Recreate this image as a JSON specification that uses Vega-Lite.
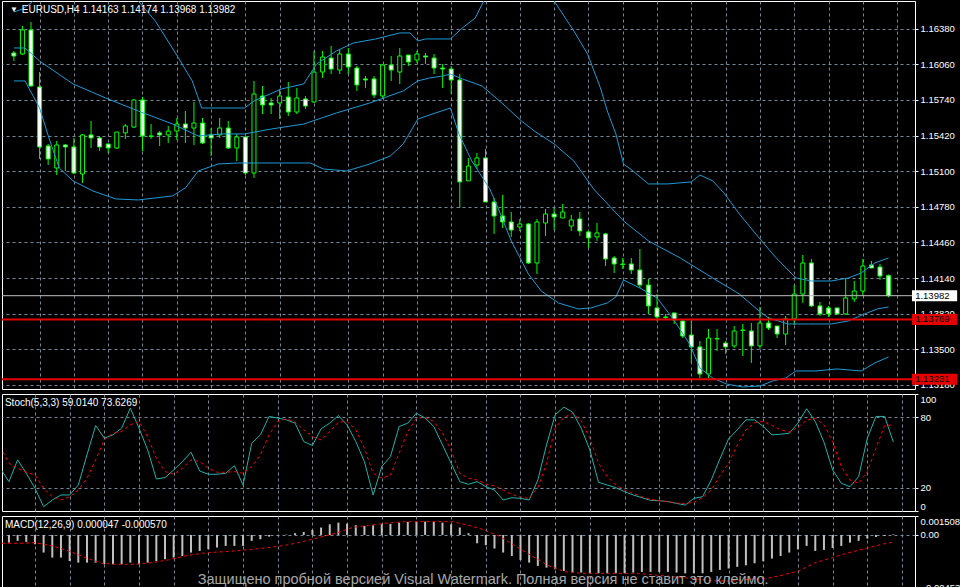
{
  "$schema": "https://vega.github.io/schema/vega-lite/v6.json",
  "background": "#000000",
  "padding": 0,
  "spacing": 3,
  "config": {
    "view": {"stroke": "#ffffff", "strokeWidth": 1},
    "axis": {
      "gridColor": "#778899",
      "gridDash": [3, 3],
      "gridWidth": 1,
      "labelColor": "#ffffff",
      "labelFont": "Liberation Sans",
      "labelFontSize": 9.5,
      "labelPadding": 2,
      "labelOverlap": false,
      "tickColor": "#ffffff",
      "tickSize": 3,
      "domain": false
    },
    "text": {"font": "Liberation Sans", "fontSize": 10}
  },
  "datasets": {
    "candles": [
      {"k": 0, "open": 1.16162, "high": 1.1618, "low": 1.1609, "close": 1.16135},
      {"k": 1, "open": 1.16153, "high": 1.16405, "low": 1.16144, "close": 1.16369},
      {"k": 2, "open": 1.16369, "high": 1.1644, "low": 1.15857, "close": 1.15866},
      {"k": 3, "open": 1.15857, "high": 1.15991, "low": 1.1521, "close": 1.15318},
      {"k": 4, "open": 1.15327, "high": 1.15345, "low": 1.15156, "close": 1.1521},
      {"k": 5, "open": 1.15129, "high": 1.15372, "low": 1.15066, "close": 1.15336},
      {"k": 6, "open": 1.15336, "high": 1.15345, "low": 1.15102, "close": 1.15318},
      {"k": 7, "open": 1.15318, "high": 1.15399, "low": 1.15075, "close": 1.15084},
      {"k": 8, "open": 1.15075, "high": 1.15435, "low": 1.14995, "close": 1.15426},
      {"k": 9, "open": 1.15426, "high": 1.15551, "low": 1.15309, "close": 1.15399},
      {"k": 10, "open": 1.15399, "high": 1.15417, "low": 1.15282, "close": 1.15318},
      {"k": 11, "open": 1.15345, "high": 1.15345, "low": 1.15264, "close": 1.15309},
      {"k": 12, "open": 1.15309, "high": 1.15452, "low": 1.153, "close": 1.15452},
      {"k": 13, "open": 1.15444, "high": 1.15524, "low": 1.1539, "close": 1.15506},
      {"k": 14, "open": 1.15497, "high": 1.15749, "low": 1.15488, "close": 1.1574},
      {"k": 15, "open": 1.1574, "high": 1.15767, "low": 1.15282, "close": 1.15417},
      {"k": 16, "open": 1.15417, "high": 1.15524, "low": 1.1539, "close": 1.15412},
      {"k": 17, "open": 1.15444, "high": 1.15461, "low": 1.15327, "close": 1.15426},
      {"k": 18, "open": 1.15426, "high": 1.15506, "low": 1.15354, "close": 1.15461},
      {"k": 19, "open": 1.15461, "high": 1.15578, "low": 1.15381, "close": 1.15524},
      {"k": 20, "open": 1.15524, "high": 1.15641, "low": 1.15354, "close": 1.15488},
      {"k": 21, "open": 1.15488, "high": 1.15722, "low": 1.15336, "close": 1.15533},
      {"k": 22, "open": 1.15533, "high": 1.15578, "low": 1.15345, "close": 1.15354},
      {"k": 23, "open": 1.15426, "high": 1.15488, "low": 1.15237, "close": 1.15399},
      {"k": 24, "open": 1.15426, "high": 1.15578, "low": 1.15399, "close": 1.15488},
      {"k": 25, "open": 1.15488, "high": 1.15551, "low": 1.153, "close": 1.15309},
      {"k": 26, "open": 1.15309, "high": 1.15435, "low": 1.15192, "close": 1.15408},
      {"k": 27, "open": 1.15408, "high": 1.15408, "low": 1.15066, "close": 1.15084},
      {"k": 28, "open": 1.15084, "high": 1.15911, "low": 1.1504, "close": 1.15794},
      {"k": 29, "open": 1.15776, "high": 1.15866, "low": 1.15614, "close": 1.15695},
      {"k": 30, "open": 1.15713, "high": 1.15758, "low": 1.15614, "close": 1.15695},
      {"k": 31, "open": 1.15713, "high": 1.15839, "low": 1.15569, "close": 1.15776},
      {"k": 32, "open": 1.15767, "high": 1.15902, "low": 1.15596, "close": 1.15632},
      {"k": 33, "open": 1.15632, "high": 1.15848, "low": 1.15614, "close": 1.15758},
      {"k": 34, "open": 1.15749, "high": 1.15776, "low": 1.15659, "close": 1.15686},
      {"k": 35, "open": 1.15722, "high": 1.1618, "low": 1.15713, "close": 1.15991},
      {"k": 36, "open": 1.15991, "high": 1.1618, "low": 1.15938, "close": 1.16126},
      {"k": 37, "open": 1.16117, "high": 1.16225, "low": 1.15973, "close": 1.16018},
      {"k": 38, "open": 1.16009, "high": 1.16198, "low": 1.15973, "close": 1.16153},
      {"k": 39, "open": 1.16153, "high": 1.16207, "low": 1.15973, "close": 1.16036},
      {"k": 40, "open": 1.16027, "high": 1.16045, "low": 1.15821, "close": 1.15875},
      {"k": 41, "open": 1.15929, "high": 1.15955, "low": 1.15848, "close": 1.1592},
      {"k": 42, "open": 1.15929, "high": 1.15955, "low": 1.15758, "close": 1.15785},
      {"k": 43, "open": 1.15776, "high": 1.16063, "low": 1.15758, "close": 1.16054},
      {"k": 44, "open": 1.16054, "high": 1.16135, "low": 1.15911, "close": 1.16009},
      {"k": 45, "open": 1.15991, "high": 1.16207, "low": 1.15884, "close": 1.16135},
      {"k": 46, "open": 1.16144, "high": 1.16144, "low": 1.16045, "close": 1.16081},
      {"k": 47, "open": 1.16099, "high": 1.1618, "low": 1.16072, "close": 1.16153},
      {"k": 48, "open": 1.16135, "high": 1.16162, "low": 1.16063, "close": 1.16126},
      {"k": 49, "open": 1.16117, "high": 1.16153, "low": 1.15973, "close": 1.16027},
      {"k": 50, "open": 1.16027, "high": 1.16063, "low": 1.15848, "close": 1.16018},
      {"k": 51, "open": 1.16018, "high": 1.16045, "low": 1.15794, "close": 1.1592},
      {"k": 52, "open": 1.1592, "high": 1.15973, "low": 1.1477, "close": 1.15004},
      {"k": 53, "open": 1.15013, "high": 1.15219, "low": 1.15013, "close": 1.15147},
      {"k": 54, "open": 1.15156, "high": 1.15264, "low": 1.1512, "close": 1.15219},
      {"k": 55, "open": 1.15219, "high": 1.153, "low": 1.14824, "close": 1.14824},
      {"k": 56, "open": 1.14824, "high": 1.1486, "low": 1.14537, "close": 1.14698},
      {"k": 57, "open": 1.14698, "high": 1.14887, "low": 1.1459, "close": 1.14644},
      {"k": 58, "open": 1.14644, "high": 1.14734, "low": 1.1451, "close": 1.14572},
      {"k": 59, "open": 1.14599, "high": 1.14671, "low": 1.14563, "close": 1.14626},
      {"k": 60, "open": 1.14626, "high": 1.14635, "low": 1.14267, "close": 1.14276},
      {"k": 61, "open": 1.14276, "high": 1.14671, "low": 1.14177, "close": 1.14644},
      {"k": 62, "open": 1.14635, "high": 1.14761, "low": 1.14519, "close": 1.14716},
      {"k": 63, "open": 1.14716, "high": 1.1477, "low": 1.14572, "close": 1.14689},
      {"k": 64, "open": 1.1468, "high": 1.14806, "low": 1.1468, "close": 1.14734},
      {"k": 65, "open": 1.14608, "high": 1.14707, "low": 1.14563, "close": 1.14662},
      {"k": 66, "open": 1.14671, "high": 1.14734, "low": 1.14519, "close": 1.14563},
      {"k": 67, "open": 1.14555, "high": 1.14563, "low": 1.14411, "close": 1.14501},
      {"k": 68, "open": 1.1451, "high": 1.14635, "low": 1.14474, "close": 1.14546},
      {"k": 69, "open": 1.14537, "high": 1.14546, "low": 1.14249, "close": 1.14312},
      {"k": 70, "open": 1.14321, "high": 1.14339, "low": 1.14186, "close": 1.14267},
      {"k": 71, "open": 1.14267, "high": 1.14321, "low": 1.14222, "close": 1.14262},
      {"k": 72, "open": 1.14267, "high": 1.14321, "low": 1.14177, "close": 1.14213},
      {"k": 73, "open": 1.14213, "high": 1.14402, "low": 1.14051, "close": 1.14078},
      {"k": 74, "open": 1.14078, "high": 1.14132, "low": 1.13818, "close": 1.1389},
      {"k": 75, "open": 1.13872, "high": 1.13997, "low": 1.13755, "close": 1.13791},
      {"k": 76, "open": 1.13791, "high": 1.13818, "low": 1.13773, "close": 1.13787},
      {"k": 77, "open": 1.13827, "high": 1.13827, "low": 1.13728, "close": 1.13764},
      {"k": 78, "open": 1.13755, "high": 1.13773, "low": 1.13602, "close": 1.1362},
      {"k": 79, "open": 1.13629, "high": 1.13755, "low": 1.13378, "close": 1.13522},
      {"k": 80, "open": 1.13522, "high": 1.13575, "low": 1.13243, "close": 1.13279},
      {"k": 81, "open": 1.13279, "high": 1.13683, "low": 1.13243, "close": 1.13602},
      {"k": 82, "open": 1.13593, "high": 1.13683, "low": 1.13486, "close": 1.13598},
      {"k": 83, "open": 1.13557, "high": 1.13575, "low": 1.13459, "close": 1.13522},
      {"k": 84, "open": 1.13531, "high": 1.1371, "low": 1.13513, "close": 1.13665},
      {"k": 85, "open": 1.13674, "high": 1.13728, "low": 1.13441, "close": 1.1367},
      {"k": 86, "open": 1.13665, "high": 1.13737, "low": 1.13378, "close": 1.13531},
      {"k": 87, "open": 1.13531, "high": 1.13881, "low": 1.13504, "close": 1.13737},
      {"k": 88, "open": 1.13737, "high": 1.13791, "low": 1.13674, "close": 1.13692},
      {"k": 89, "open": 1.1371, "high": 1.1371, "low": 1.13602, "close": 1.13638},
      {"k": 90, "open": 1.13638, "high": 1.138, "low": 1.13539, "close": 1.13773},
      {"k": 91, "open": 1.13773, "high": 1.14078, "low": 1.13719, "close": 1.13997},
      {"k": 92, "open": 1.13997, "high": 1.14348, "low": 1.13917, "close": 1.14276},
      {"k": 93, "open": 1.14276, "high": 1.14312, "low": 1.13881, "close": 1.1389},
      {"k": 94, "open": 1.1389, "high": 1.13926, "low": 1.138, "close": 1.13818},
      {"k": 95, "open": 1.13872, "high": 1.1389, "low": 1.13791, "close": 1.13818},
      {"k": 96, "open": 1.13872, "high": 1.13872, "low": 1.13809, "close": 1.13818},
      {"k": 97, "open": 1.13818, "high": 1.14141, "low": 1.13809, "close": 1.13962},
      {"k": 98, "open": 1.13953, "high": 1.14114, "low": 1.13926, "close": 1.14024},
      {"k": 99, "open": 1.14024, "high": 1.14312, "low": 1.1398, "close": 1.14249},
      {"k": 100, "open": 1.14258, "high": 1.14294, "low": 1.14231, "close": 1.14231},
      {"k": 101, "open": 1.1424, "high": 1.14267, "low": 1.14123, "close": 1.14159},
      {"k": 102, "open": 1.14163, "high": 1.14174, "low": 1.13968, "close": 1.13982}
    ],
    "upper": [
      {"k": 0, "v": 1.1653}, {"k": 1, "v": 1.16557}, {"k": 2, "v": 1.16611}, {"k": 3, "v": 1.16701},
      {"k": 5, "v": 1.16854}, {"k": 8, "v": 1.16943}, {"k": 11, "v": 1.16854}, {"k": 13, "v": 1.16737},
      {"k": 14.5, "v": 1.16629}, {"k": 16.5, "v": 1.16449}, {"k": 19.2, "v": 1.16117}, {"k": 20.8, "v": 1.15911},
      {"k": 21.9, "v": 1.15668}, {"k": 26.9, "v": 1.15668}, {"k": 28, "v": 1.15731}, {"k": 31.2, "v": 1.15839},
      {"k": 33.8, "v": 1.15884}, {"k": 35.3, "v": 1.16063}, {"k": 37.6, "v": 1.1618}, {"k": 39.6, "v": 1.16252},
      {"k": 42.2, "v": 1.16288}, {"k": 45, "v": 1.16342}, {"k": 46.2, "v": 1.16342}, {"k": 47.1, "v": 1.1627},
      {"k": 48, "v": 1.16288}, {"k": 50.9, "v": 1.16288}, {"k": 52.3, "v": 1.16387}, {"k": 53.8, "v": 1.16476},
      {"k": 54.8, "v": 1.16629}, {"k": 57, "v": 1.16943}, {"k": 59, "v": 1.17078}, {"k": 61, "v": 1.16898},
      {"k": 63, "v": 1.16629}, {"k": 65.3, "v": 1.1636}, {"k": 66.9, "v": 1.16153}, {"k": 68.4, "v": 1.15848},
      {"k": 69.2, "v": 1.15641}, {"k": 70.2, "v": 1.15435}, {"k": 71.1, "v": 1.15165}, {"k": 72.2, "v": 1.15102},
      {"k": 74, "v": 1.14986}, {"k": 76.2, "v": 1.14986}, {"k": 79, "v": 1.15004}, {"k": 80, "v": 1.15066},
      {"k": 81.5, "v": 1.15013}, {"k": 82.8, "v": 1.14905}, {"k": 84.6, "v": 1.14716}, {"k": 86.9, "v": 1.14501},
      {"k": 88.9, "v": 1.14321}, {"k": 91.2, "v": 1.14141}, {"k": 93, "v": 1.14114}, {"k": 95.3, "v": 1.14114},
      {"k": 97.3, "v": 1.14141}, {"k": 98.8, "v": 1.14186}, {"k": 100.4, "v": 1.14276}, {"k": 102, "v": 1.14321}
    ],
    "middle": [
      {"k": 0, "v": 1.16207}, {"k": 1.3, "v": 1.16207}, {"k": 3, "v": 1.1609}, {"k": 6.9, "v": 1.15884},
      {"k": 10.7, "v": 1.15758}, {"k": 14.5, "v": 1.15641}, {"k": 18.5, "v": 1.15524}, {"k": 21.5, "v": 1.15417},
      {"k": 24.2, "v": 1.15435}, {"k": 26.9, "v": 1.15435}, {"k": 30, "v": 1.15479}, {"k": 33.8, "v": 1.15524},
      {"k": 37.6, "v": 1.15623}, {"k": 41.5, "v": 1.15713}, {"k": 45.4, "v": 1.15821}, {"k": 47.1, "v": 1.15911},
      {"k": 48.5, "v": 1.15938}, {"k": 50, "v": 1.15955}, {"k": 50.9, "v": 1.15973}, {"k": 52.3, "v": 1.15929},
      {"k": 54.6, "v": 1.15866}, {"k": 56.9, "v": 1.15713}, {"k": 59.2, "v": 1.15551}, {"k": 60.7, "v": 1.15461},
      {"k": 63, "v": 1.15345}, {"k": 65.3, "v": 1.15192}, {"k": 67.6, "v": 1.14941}, {"k": 71.1, "v": 1.14653},
      {"k": 74, "v": 1.14474}, {"k": 77.7, "v": 1.14321}, {"k": 81.5, "v": 1.14141}, {"k": 84.6, "v": 1.13997},
      {"k": 86.9, "v": 1.13845}, {"k": 88, "v": 1.13782}, {"k": 90.3, "v": 1.13728}, {"k": 92.7, "v": 1.13728},
      {"k": 95.3, "v": 1.13728}, {"k": 97.3, "v": 1.13755}, {"k": 99.2, "v": 1.13818}, {"k": 100.7, "v": 1.13863},
      {"k": 102, "v": 1.13881}
    ],
    "lower": [
      {"k": 0, "v": 1.15911}, {"k": 1.3, "v": 1.15911}, {"k": 3, "v": 1.15668}, {"k": 4.2, "v": 1.15372},
      {"k": 5.3, "v": 1.15129}, {"k": 6.9, "v": 1.15013}, {"k": 9.2, "v": 1.14923}, {"k": 11.9, "v": 1.14851},
      {"k": 14.5, "v": 1.14842}, {"k": 18.5, "v": 1.14878}, {"k": 20, "v": 1.1495}, {"k": 21.5, "v": 1.15102},
      {"k": 23.8, "v": 1.15165}, {"k": 26.1, "v": 1.15174}, {"k": 30, "v": 1.15174}, {"k": 34.6, "v": 1.15174},
      {"k": 36.1, "v": 1.1512}, {"k": 38.8, "v": 1.15102}, {"k": 41.5, "v": 1.15165}, {"k": 43.9, "v": 1.15237},
      {"k": 45.4, "v": 1.15345}, {"k": 46.5, "v": 1.15488}, {"k": 47.1, "v": 1.15569}, {"k": 50.9, "v": 1.15668},
      {"k": 51.9, "v": 1.15435}, {"k": 53.4, "v": 1.15192}, {"k": 55.5, "v": 1.14941}, {"k": 56.6, "v": 1.14743},
      {"k": 58, "v": 1.14474}, {"k": 60, "v": 1.14177}, {"k": 61.5, "v": 1.14024}, {"k": 63.5, "v": 1.13917},
      {"k": 65.8, "v": 1.13863}, {"k": 67.3, "v": 1.13872}, {"k": 69.2, "v": 1.13917}, {"k": 70.2, "v": 1.13971},
      {"k": 71.1, "v": 1.14123}, {"k": 73, "v": 1.14051}, {"k": 75, "v": 1.13962}, {"k": 76.8, "v": 1.13782},
      {"k": 78.8, "v": 1.13548}, {"k": 80, "v": 1.13333}, {"k": 81.5, "v": 1.13243}, {"k": 83.1, "v": 1.13189},
      {"k": 85, "v": 1.13162}, {"k": 87, "v": 1.13171}, {"k": 88.5, "v": 1.13216}, {"k": 90, "v": 1.13243},
      {"k": 91.2, "v": 1.13306}, {"k": 93.5, "v": 1.13306}, {"k": 96, "v": 1.13324}, {"k": 98.8, "v": 1.13306},
      {"k": 100.4, "v": 1.13378}, {"k": 102, "v": 1.13432}
    ],
    "levels": [
      {"price": 1.13982, "kind": "bid"},
      {"price": 1.13769, "kind": "level"},
      {"price": 1.13231, "kind": "level"}
    ],
    "stoch": [
      {"k": -1, "main": 36.5, "signal": 55}, {"k": 0, "main": 25.1, "signal": 40.8},
      {"k": 1, "main": 43.7, "signal": 36.5}, {"k": 2, "main": 32.2, "signal": 33.1},
      {"k": 3, "main": 19.4, "signal": 30.8}, {"k": 4, "main": 3.7, "signal": 19.4},
      {"k": 5, "main": 9.4, "signal": 12.2}, {"k": 6, "main": 13.7, "signal": 9.4},
      {"k": 7, "main": 13.7, "signal": 12.2}, {"k": 8, "main": 22.2, "signal": 17.9},
      {"k": 9, "main": 47.9, "signal": 28.0}, {"k": 10, "main": 73.1, "signal": 43.7},
      {"k": 11, "main": 62.2, "signal": 60.8}, {"k": 12, "main": 65.1, "signal": 66.5},
      {"k": 13, "main": 70.8, "signal": 67.9}, {"k": 14, "main": 87.9, "signal": 73.6},
      {"k": 15, "main": 70.8, "signal": 76.5}, {"k": 16, "main": 52.2, "signal": 63.6},
      {"k": 17, "main": 27.4, "signal": 45.1}, {"k": 18, "main": 28.5, "signal": 33.7},
      {"k": 19, "main": 35.1, "signal": 31.4}, {"k": 20, "main": 42.2, "signal": 36.5},
      {"k": 21, "main": 50.2, "signal": 43.7}, {"k": 22, "main": 34.2, "signal": 42.2},
      {"k": 23, "main": 31.4, "signal": 36.5}, {"k": 24, "main": 31.4, "signal": 33.1},
      {"k": 25, "main": 32.2, "signal": 33.1}, {"k": 26, "main": 38.8, "signal": 33.7},
      {"k": 27, "main": 22.2, "signal": 32.2}, {"k": 28, "main": 57.9, "signal": 38.0},
      {"k": 29, "main": 65.1, "signal": 47.9}, {"k": 30, "main": 80.8, "signal": 65.1},
      {"k": 31, "main": 79.4, "signal": 76.5}, {"k": 32, "main": 77.9, "signal": 78.8},
      {"k": 33, "main": 75.1, "signal": 75.9}, {"k": 34, "main": 59.4, "signal": 69.4},
      {"k": 35, "main": 56.0, "signal": 63.6}, {"k": 36, "main": 70.2, "signal": 60.8},
      {"k": 37, "main": 75.1, "signal": 67.9}, {"k": 38, "main": 81.6, "signal": 75.9},
      {"k": 39, "main": 73.6, "signal": 76.5}, {"k": 40, "main": 59.4, "signal": 69.4},
      {"k": 41, "main": 42.2, "signal": 53.6}, {"k": 42, "main": 13.7, "signal": 32.2},
      {"k": 43, "main": 38.0, "signal": 28.0}, {"k": 44, "main": 46.5, "signal": 30.8},
      {"k": 45, "main": 72.2, "signal": 49.4}, {"k": 46, "main": 75.1, "signal": 67.9},
      {"k": 47, "main": 83.6, "signal": 79.4}, {"k": 48, "main": 79.4, "signal": 79.9},
      {"k": 49, "main": 72.2, "signal": 76.5}, {"k": 50, "main": 56.5, "signal": 66.5},
      {"k": 51, "main": 40.8, "signal": 52.2}, {"k": 52, "main": 25.1, "signal": 32.2},
      {"k": 53, "main": 22.8, "signal": 28.0}, {"k": 54, "main": 25.1, "signal": 26.5},
      {"k": 55, "main": 20.8, "signal": 23.0}, {"k": 56, "main": 17.9, "signal": 21.4},
      {"k": 57, "main": 9.4, "signal": 17.9}, {"k": 58, "main": 11.4, "signal": 14.2},
      {"k": 59, "main": 10.8, "signal": 11.9}, {"k": 60, "main": 9.4, "signal": 10.8},
      {"k": 61, "main": 26.5, "signal": 19.9}, {"k": 62, "main": 56.5, "signal": 40.8},
      {"k": 63, "main": 82.2, "signal": 70.8}, {"k": 64, "main": 88.8, "signal": 79.9},
      {"k": 65, "main": 84.5, "signal": 83.4}, {"k": 66, "main": 70.8, "signal": 77.1},
      {"k": 67, "main": 52.2, "signal": 62.2}, {"k": 68, "main": 24.5, "signal": 40.8},
      {"k": 69, "main": 22.2, "signal": 29.4}, {"k": 70, "main": 19.9, "signal": 22.2},
      {"k": 71, "main": 16.5, "signal": 17.9}, {"k": 72, "main": 13.7, "signal": 15.1},
      {"k": 73, "main": 11.4, "signal": 12.2}, {"k": 74, "main": 9.1, "signal": 9.9},
      {"k": 75, "main": 8.8, "signal": 8.8}, {"k": 76, "main": 8.0, "signal": 8.0},
      {"k": 77, "main": 6.5, "signal": 6.8}, {"k": 78, "main": 5.1, "signal": 6.5},
      {"k": 79, "main": 10.8, "signal": 7.4}, {"k": 80, "main": 12.2, "signal": 11.4},
      {"k": 81, "main": 26.5, "signal": 17.9}, {"k": 82, "main": 44.5, "signal": 30.2},
      {"k": 83, "main": 61.7, "signal": 40.8}, {"k": 84, "main": 69.4, "signal": 56.5},
      {"k": 85, "main": 77.9, "signal": 69.4}, {"k": 86, "main": 77.9, "signal": 75.4},
      {"k": 87, "main": 72.2, "signal": 76.5}, {"k": 88, "main": 65.1, "signal": 73.1},
      {"k": 89, "main": 65.6, "signal": 69.4}, {"k": 90, "main": 66.5, "signal": 67.4},
      {"k": 91, "main": 75.1, "signal": 71.6}, {"k": 92, "main": 87.4, "signal": 77.6},
      {"k": 93, "main": 76.5, "signal": 79.4}, {"k": 94, "main": 58.8, "signal": 73.6},
      {"k": 95, "main": 35.1, "signal": 59.4}, {"k": 96, "main": 23.7, "signal": 38.0},
      {"k": 97, "main": 20.8, "signal": 26.5}, {"k": 98, "main": 29.4, "signal": 23.7},
      {"k": 99, "main": 62.2, "signal": 33.7}, {"k": 100, "main": 80.8, "signal": 53.6},
      {"k": 101, "main": 80.8, "signal": 73.1}, {"k": 102, "main": 59.0, "signal": 73.6}
    ],
    "macd": [
      {"k": 0, "hist": -0.00061}, {"k": 1, "hist": -0.00047}, {"k": 2, "hist": -0.00055}, {"k": 3, "hist": -0.00074},
      {"k": 4, "hist": -0.0014}, {"k": 5, "hist": -0.0018}, {"k": 6, "hist": -0.0018}, {"k": 7, "hist": -0.00207},
      {"k": 8, "hist": -0.0022}, {"k": 9, "hist": -0.0022}, {"k": 10, "hist": -0.0022}, {"k": 11, "hist": -0.00233},
      {"k": 12, "hist": -0.00233}, {"k": 13, "hist": -0.00233}, {"k": 14, "hist": -0.0022}, {"k": 15, "hist": -0.00233},
      {"k": 16, "hist": -0.0022}, {"k": 17, "hist": -0.00207}, {"k": 18, "hist": -0.00193}, {"k": 19, "hist": -0.0018},
      {"k": 20, "hist": -0.00167}, {"k": 21, "hist": -0.0014}, {"k": 22, "hist": -0.00127}, {"k": 23, "hist": -0.00114},
      {"k": 24, "hist": -0.001}, {"k": 25, "hist": -0.00087}, {"k": 26, "hist": -0.00087}, {"k": 27, "hist": -0.00087},
      {"k": 28, "hist": -0.00047}, {"k": 29, "hist": -0.00034}, {"k": 30, "hist": -0.00013}, {"k": 31, "hist": -0.00005},
      {"k": 32, "hist": 0.00003}, {"k": 33, "hist": 0.00014}, {"k": 34, "hist": 0.00024}, {"k": 35, "hist": 0.0004},
      {"k": 36, "hist": 0.00059}, {"k": 37, "hist": 0.00085}, {"k": 38, "hist": 0.00098}, {"k": 39, "hist": 0.0009},
      {"k": 40, "hist": 0.00077}, {"k": 41, "hist": 0.00072}, {"k": 42, "hist": 0.00077}, {"k": 43, "hist": 0.00085},
      {"k": 44, "hist": 0.00088}, {"k": 45, "hist": 0.00098}, {"k": 46, "hist": 0.00104}, {"k": 47, "hist": 0.00106},
      {"k": 48, "hist": 0.00106}, {"k": 49, "hist": 0.00104}, {"k": 50, "hist": 0.00098}, {"k": 51, "hist": 0.00085},
      {"k": 52, "hist": 0.00059}, {"k": 53, "hist": 0.00014}, {"k": 54, "hist": -0.00066}, {"k": 55, "hist": -0.00082},
      {"k": 56, "hist": -0.00108}, {"k": 57, "hist": -0.0014}, {"k": 58, "hist": -0.00167}, {"k": 59, "hist": -0.00199},
      {"k": 60, "hist": -0.0022}, {"k": 61, "hist": -0.00246}, {"k": 62, "hist": -0.0026}, {"k": 63, "hist": -0.00273},
      {"k": 64, "hist": -0.00286}, {"k": 65, "hist": -0.00294}, {"k": 66, "hist": -0.00299}, {"k": 67, "hist": -0.00305},
      {"k": 68, "hist": -0.00305}, {"k": 69, "hist": -0.00305}, {"k": 70, "hist": -0.00305}, {"k": 71, "hist": -0.00305},
      {"k": 72, "hist": -0.00299}, {"k": 73, "hist": -0.00294}, {"k": 74, "hist": -0.00294}, {"k": 75, "hist": -0.00294},
      {"k": 76, "hist": -0.00294}, {"k": 77, "hist": -0.00299}, {"k": 78, "hist": -0.00305}, {"k": 79, "hist": -0.00305},
      {"k": 80, "hist": -0.00305}, {"k": 81, "hist": -0.00294}, {"k": 82, "hist": -0.00278}, {"k": 83, "hist": -0.00267},
      {"k": 84, "hist": -0.00254}, {"k": 85, "hist": -0.00241}, {"k": 86, "hist": -0.00225}, {"k": 87, "hist": -0.00209},
      {"k": 88, "hist": -0.00188}, {"k": 89, "hist": -0.00167}, {"k": 90, "hist": -0.0014}, {"k": 91, "hist": -0.00114},
      {"k": 92, "hist": -0.00087}, {"k": 93, "hist": -0.00127}, {"k": 94, "hist": -0.00119}, {"k": 95, "hist": -0.00103},
      {"k": 96, "hist": -0.00087}, {"k": 97, "hist": -0.00061}, {"k": 98, "hist": -0.00047}, {"k": 99, "hist": -0.00029},
      {"k": 100, "hist": -0.00016}, {"k": 101, "hist": -0.00008}, {"k": 102, "hist": 0.00005}
    ],
    "macdsignal": [
      {"k": -0.8, "v": -0.00066}, {"k": 1.5, "v": -0.00066}, {"k": 3, "v": -0.00061}, {"k": 5, "v": -0.00087},
      {"k": 6.9, "v": -0.00127}, {"k": 8.8, "v": -0.0018}, {"k": 10.7, "v": -0.00225}, {"k": 12.3, "v": -0.00233},
      {"k": 14.6, "v": -0.00233}, {"k": 16.5, "v": -0.0022}, {"k": 18.4, "v": -0.00198}, {"k": 20.3, "v": -0.00167},
      {"k": 22.3, "v": -0.00145}, {"k": 24.2, "v": -0.00135}, {"k": 26.1, "v": -0.00127}, {"k": 28, "v": -0.00114},
      {"k": 30, "v": -0.001}, {"k": 31.9, "v": -0.00082}, {"k": 33.8, "v": -0.00055}, {"k": 35.7, "v": -0.00021},
      {"k": 37.7, "v": 0.00014}, {"k": 39.6, "v": 0.00059}, {"k": 41.5, "v": 0.00077}, {"k": 43.4, "v": 0.00093},
      {"k": 45.3, "v": 0.00104}, {"k": 47.3, "v": 0.00106}, {"k": 49.2, "v": 0.00106}, {"k": 51.1, "v": 0.00106},
      {"k": 53, "v": 0.00077}, {"k": 54.6, "v": 0.00045}, {"k": 56.5, "v": -0.00008}, {"k": 58.4, "v": -0.00087},
      {"k": 60.3, "v": -0.00167}, {"k": 62.3, "v": -0.00246}, {"k": 64.2, "v": -0.00294}, {"k": 66.1, "v": -0.00305},
      {"k": 68, "v": -0.00305}, {"k": 70, "v": -0.00305}, {"k": 71.9, "v": -0.00305}, {"k": 73.8, "v": -0.00313},
      {"k": 75.7, "v": -0.00326}, {"k": 77.7, "v": -0.00339}, {"k": 79.6, "v": -0.00352}, {"k": 81.5, "v": -0.00366},
      {"k": 83.4, "v": -0.00366}, {"k": 85.4, "v": -0.00352}, {"k": 87.3, "v": -0.00347}, {"k": 89.2, "v": -0.0032},
      {"k": 91.1, "v": -0.00286}, {"k": 93, "v": -0.0022}, {"k": 95, "v": -0.0018}, {"k": 96.9, "v": -0.0014},
      {"k": 98.8, "v": -0.00108}, {"k": 100.7, "v": -0.00074}, {"k": 102, "v": -0.00057}
    ]
  },
  "vconcat": [
    {
      "width": 913,
      "height": 388,
      "resolve": {"axis": {"x": "independent", "y": "independent"}},
      "layer": [
        {
          "data": {"name": "candles"},
          "mark": {"type": "rule", "color": "#00ff00", "strokeWidth": 1},
          "encoding": {
            "x": {"field": "k", "type": "quantitative", "title": null,
              "scale": {"domain": [-0.8, 104.5], "nice": false, "zero": false},
              "axis": {"values": [3, 7, 11, 15, 19, 23, 27, 31, 35, 39, 43, 47, 51, 55, 59, 63, 67, 71, 75, 79, 83, 87, 91, 95, 99, 103],
                "labels": false, "ticks": false, "grid": true}},
            "y": {"field": "low", "type": "quantitative", "title": null,
              "scale": {"domain": [1.13144, 1.16629], "nice": false, "zero": false},
              "axis": {"orient": "right", "grid": true, "format": ".5f", "labelOverlap": false, "labelBound": false,
                "values": [1.1638, 1.1606, 1.1574, 1.1542, 1.151, 1.1478, 1.1446, 1.1414, 1.1382, 1.135, 1.1318]}},
            "y2": {"field": "high"}
          }
        },
        {
          "data": {"name": "candles"},
          "mark": {"type": "bar", "size": 4, "stroke": "#00ff00", "strokeWidth": 1},
          "encoding": {
            "x": {"field": "k", "type": "quantitative", "axis": null},
            "y": {"field": "open", "type": "quantitative", "axis": null},
            "y2": {"field": "close"},
            "fill": {"condition": {"test": "datum.close > datum.open", "value": "#000000"}, "value": "#ffffff"}
          }
        },
        {
          "data": {"name": "upper"},
          "mark": {"type": "line", "color": "#1e9ad6", "strokeWidth": 1, "clip": true},
          "encoding": {
            "x": {"field": "k", "type": "quantitative", "axis": null},
            "y": {"field": "v", "type": "quantitative", "axis": null}
          }
        },
        {
          "data": {"name": "middle"},
          "mark": {"type": "line", "color": "#1e9ad6", "strokeWidth": 1, "clip": true},
          "encoding": {
            "x": {"field": "k", "type": "quantitative", "axis": null},
            "y": {"field": "v", "type": "quantitative", "axis": null}
          }
        },
        {
          "data": {"name": "lower"},
          "mark": {"type": "line", "color": "#1e9ad6", "strokeWidth": 1, "clip": true},
          "encoding": {
            "x": {"field": "k", "type": "quantitative", "axis": null},
            "y": {"field": "v", "type": "quantitative", "axis": null}
          }
        },
        {
          "data": {"name": "levels"},
          "mark": {"type": "rule"},
          "encoding": {
            "y": {"field": "price", "type": "quantitative", "axis": null},
            "color": {"condition": {"test": "datum.kind == 'bid'", "value": "#c0c0c0"}, "value": "#e60000"},
            "strokeWidth": {"condition": {"test": "datum.kind == 'bid'", "value": 1}, "value": 2}
          }
        },
        {
          "data": {"name": "levels"},
          "mark": {"type": "rule", "strokeWidth": 11, "strokeCap": "butt", "clip": false},
          "encoding": {
            "x": {"datum": 104.73, "axis": null},
            "x2": {"datum": 110.0},
            "y": {"field": "price", "type": "quantitative", "axis": null},
            "color": {"condition": {"test": "datum.kind == 'bid'", "value": "#ffffff"}, "value": "#e60000"}
          }
        },
        {
          "data": {"name": "levels"},
          "mark": {"type": "text", "align": "left", "baseline": "middle", "fontSize": 9.5, "color": "#000000", "clip": false},
          "encoding": {
            "x": {"datum": 105.1, "axis": null},
            "y": {"field": "price", "type": "quantitative", "axis": null},
            "text": {"field": "price", "type": "quantitative", "format": ".5f"}
          }
        },
        {
          "data": {"values": [{"label": "▼"}]},
          "mark": {"type": "text", "align": "center", "baseline": "middle", "fontSize": 8, "color": "#ffffff"},
          "encoding": {
            "x": {"datum": 0, "axis": null},
            "y": {"datum": 1.16544, "axis": null},
            "text": {"field": "label"}
          }
        },
        {
          "data": {"values": [{"label": "EURUSD,H4  1.14163 1.14174 1.13968 1.13982"}]},
          "mark": {"type": "text", "align": "left", "baseline": "middle", "fontSize": 10, "color": "#ffffff"},
          "encoding": {
            "x": {"datum": 0.93, "axis": null},
            "y": {"datum": 1.16544, "axis": null},
            "text": {"field": "label"}
          }
        }
      ]
    },
    {
      "width": 913,
      "height": 117,
      "resolve": {"axis": {"x": "independent", "y": "independent"}},
      "layer": [
        {
          "data": {"name": "stoch"},
          "mark": {"type": "line", "color": "#20b2aa", "strokeWidth": 1, "clip": true},
          "encoding": {
            "x": {"field": "k", "type": "quantitative", "title": null,
              "scale": {"domain": [-0.8, 104.5], "nice": false, "zero": false},
              "axis": {"values": [3, 7, 11, 15, 19, 23, 27, 31, 35, 39, 43, 47, 51, 55, 59, 63, 67, 71, 75, 79, 83, 87, 91, 95, 99, 103],
                "labels": false, "ticks": false, "grid": true}},
            "y": {"field": "main", "type": "quantitative", "title": null,
              "scale": {"domain": [0, 100], "nice": false},
              "axis": {"orient": "right", "grid": true, "labelFlush": true, "labelOverlap": false, "labelBound": false,
                "values": [0, 20, 80, 100],
                "gridOpacity": {"condition": {"test": "datum.value == 0 || datum.value == 100", "value": 0}, "value": 1}}}
          }
        },
        {
          "data": {"name": "stoch"},
          "mark": {"type": "line", "color": "#ff0000", "strokeWidth": 1, "strokeDash": [3, 3], "clip": true},
          "encoding": {
            "x": {"field": "k", "type": "quantitative", "axis": null},
            "y": {"field": "signal", "type": "quantitative", "axis": null}
          }
        },
        {
          "data": {"values": [{"label": "Stoch(5,3,3) 59.0140 73.6269"}]},
          "mark": {"type": "text", "align": "left", "baseline": "middle", "fontSize": 10, "color": "#ffffff"},
          "encoding": {
            "x": {"datum": -0.46, "axis": null},
            "y": {"datum": 92.2, "axis": null},
            "text": {"field": "label"}
          }
        }
      ]
    },
    {
      "width": 913,
      "height": 76,
      "resolve": {"axis": {"x": "independent", "y": "independent"}},
      "layer": [
        {
          "data": {"name": "macd"},
          "mark": {"type": "rule", "color": "#c0c0c0", "strokeWidth": 2},
          "encoding": {
            "x": {"field": "k", "type": "quantitative", "title": null,
              "scale": {"domain": [-0.8, 104.5], "nice": false, "zero": false},
              "axis": {"values": [3, 7, 11, 15, 19, 23, 27, 31, 35, 39, 43, 47, 51, 55, 59, 63, 67, 71, 75, 79, 83, 87, 91, 95, 99, 103],
                "labels": false, "ticks": false, "grid": true}},
            "y": {"field": "hist", "type": "quantitative", "title": null,
              "scale": {"domain": [-0.004537, 0.001508], "nice": false, "zero": false},
              "axis": {"orient": "right", "grid": true, "labelFlush": true, "labelOverlap": false, "labelBound": false,
                "values": [-0.004537, 0, 0.001508],
                "labelExpr": "datum.value == 0 ? '0.00' : format(datum.value, '.6f')",
                "gridOpacity": {"condition": {"test": "datum.value == 0", "value": 1}, "value": 0}}},
            "y2": {"datum": 0}
          }
        },
        {
          "data": {"name": "macdsignal"},
          "mark": {"type": "line", "color": "#ff0000", "strokeWidth": 1, "strokeDash": [3, 3], "clip": true},
          "encoding": {
            "x": {"field": "k", "type": "quantitative", "axis": null},
            "y": {"field": "v", "type": "quantitative", "axis": null}
          }
        },
        {
          "data": {"values": [{"label": "MACD(12,26,9) 0.000047 -0.000570"}]},
          "mark": {"type": "text", "align": "left", "baseline": "middle", "fontSize": 10, "color": "#ffffff"},
          "encoding": {
            "x": {"datum": -0.46, "axis": null},
            "y": {"datum": 0.000792, "axis": null},
            "text": {"field": "label"}
          }
        },
        {
          "data": {"values": [{"label": "Защищено пробной версией Visual Watermark. Полная версия не ставит это клеймо."}]},
          "mark": {"type": "text", "align": "center", "baseline": "middle", "fontSize": 14.5, "color": "#a8a8a8"},
          "encoding": {
            "x": {"datum": 54.7, "axis": null},
            "y": {"datum": -0.003583, "axis": null},
            "text": {"field": "label"}
          }
        }
      ]
    }
  ]
}
